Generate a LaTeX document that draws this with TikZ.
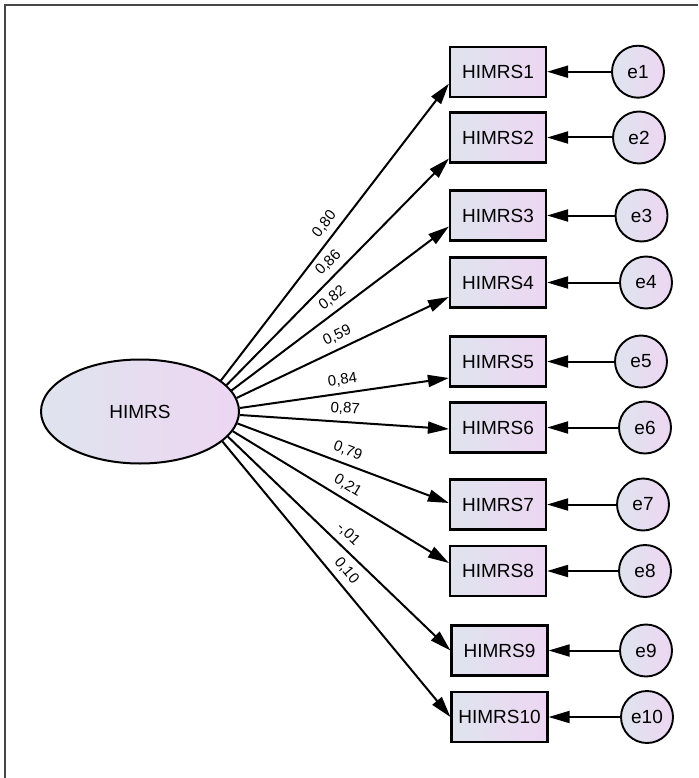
\documentclass[tikz,border=0pt]{standalone}
\usepackage{fontspec}
\setmainfont{Liberation Sans}
\usetikzlibrary{arrows.meta,shapes.geometric,calc}
\definecolor{fillL}{RGB}{223,228,238}
\definecolor{fillR}{RGB}{237,214,242}
\definecolor{framegray}{RGB}{70,70,70}
\begin{document}
\begin{tikzpicture}[x=1pt,y=-1pt,
  latent/.style={ellipse, draw, line width=2pt, left color=fillL, right color=fillR,
    minimum width=198pt, minimum height=104pt, inner sep=0pt,
    font=\fontsize{19}{19}\selectfont},
  obs/.style={rectangle, draw, line width=2.2pt, left color=fillL, right color=fillR,
    minimum width=96pt, minimum height=50pt, inner sep=0pt,
    font=\fontsize{19}{19}\selectfont},
  err/.style={circle, draw, line width=1.9pt, left color=fillL, right color=fillR,
    minimum size=52pt, inner sep=0pt, font=\fontsize{19}{19}\selectfont},
  regline/.style={line width=2pt, -{Triangle[length=21pt,width=12pt]}},
  coef/.style={font=\fontsize{15}{15}\selectfont, sloped, midway, above=6pt, inner sep=0pt},
]
\useasboundingbox (0,0) rectangle (698,778);

% frame (top and left edges)
\draw[framegray, line width=1.8pt] (5,778) -- (5,5) -- (698,5);

% latent variable
\node[latent] (hm) at (140,411.5) {HIMRS};

% observed indicators
\node[obs] (b1)  at (498,71.7)  {HIMRS1};
\node[obs] (b2)  at (498,137.5) {HIMRS2};
\node[obs] (b3)  at (498,215.5) {HIMRS3};
\node[obs] (b4)  at (498,282.5) {HIMRS4};
\node[obs] (b5)  at (498,361.5) {HIMRS5};
\node[obs] (b6)  at (498,427.5) {HIMRS6};
\node[obs] (b7)  at (498,504.5) {HIMRS7};
\node[obs] (b8)  at (498,571)   {HIMRS8};
\node[obs] (b9)  at (499.5,650.5) {HIMRS9};
\node[obs] (b10) at (499.5,717)   {HIMRS10};

% error terms
\node[err] (e1)  at (638,71.7)  {e1};
\node[err] (e2)  at (639,137.5) {e2};
\node[err] (e3)  at (641.5,215.5) {e3};
\node[err] (e4)  at (646,282.5) {e4};
\node[err] (e5)  at (641,361.5) {e5};
\node[err] (e6)  at (645,427.5) {e6};
\node[err] (e7)  at (643,504.5) {e7};
\node[err] (e8)  at (645,571)   {e8};
\node[err] (e9)  at (646,650.5) {e9};
\node[err] (e10) at (647,717)   {e10};

% factor loadings
\draw[regline] (hm.21.1)  -- ($(b1.west)+(0,12)$)   node[coef]{0,80};
\draw[regline] (hm.17.1)  -- ($(b2.west)+(0,21)$)   node[coef]{0,86};
\draw[regline] (hm.13.4)  -- ($(b3.west)+(0,11)$)   node[coef]{0,82};
\draw[regline] (hm.8.3)   -- ($(b4.west)+(0,14.5)$) node[coef]{0,59};
\draw[regline] (hm.2)     -- ($(b5.west)+(0,16.5)$) node[coef]{0,84};
\draw[regline] (hm.-2)    -- ($(b6.west)+(0,1.5)$)  node[coef]{0,87};
\draw[regline] (hm.-7.4)  -- ($(b7.west)+(0,-1.5)$) node[coef]{0,79};
\draw[regline] (hm.-12.4) -- ($(b8.west)+(0,-8)$)   node[coef]{0,21};
\draw[regline] (hm.-16.6) -- (b9.west)              node[coef]{-,01};
\draw[regline] (hm.-20.8) -- (b10.west)             node[coef]{0,10};

% error paths
\foreach \i in {1,...,10}
  \draw[regline] (e\i) -- (b\i);
\end{tikzpicture}
\end{document}
